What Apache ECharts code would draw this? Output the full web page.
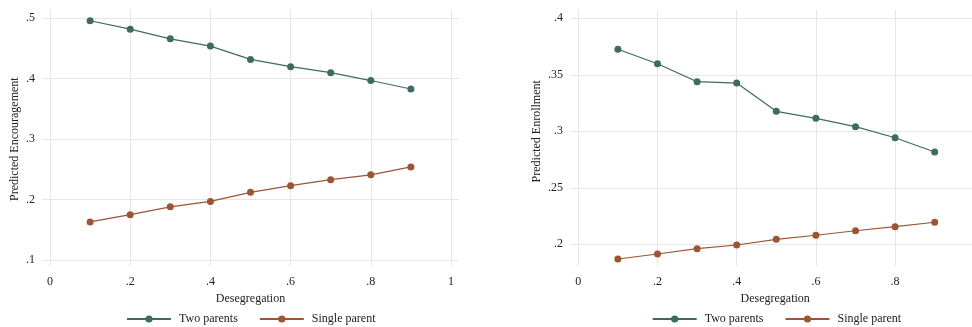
<!DOCTYPE html>
<html>
<head>
<meta charset="utf-8">
<script src="https://cdn.jsdelivr.net/npm/echarts@6/dist/echarts.min.js"></script>
<style>html,body{margin:0;padding:0;background:#fff}#c{width:972px;height:327px}</style>
</head>
<body>
<div id="c"></div>
<script>
// ---- data ----
const desegregation = [0.1, 0.2, 0.3, 0.4, 0.5, 0.6, 0.7, 0.8, 0.9];
const encourageTwoParents = [0.496, 0.482, 0.466, 0.454, 0.432, 0.420, 0.410, 0.397, 0.383];
const encourageSingleParent = [0.163, 0.175, 0.188, 0.197, 0.212, 0.223, 0.233, 0.241, 0.254];
const enrollTwoParents = [0.3726, 0.3598, 0.3439, 0.3427, 0.3177, 0.3115, 0.3041, 0.2943, 0.2817];
const enrollSingleParent = [0.187, 0.1914, 0.1961, 0.1994, 0.2044, 0.2080, 0.2120, 0.2156, 0.2195];
const seriesNames = ['Two parents', 'Single parent'];
const leftYTicks = { min: 0.1, max: 0.5, interval: 0.1 };
const rightYTicks = { min: 0.2, max: 0.4, interval: 0.05 };
const xTicks = { min: 0, max: 1, interval: 0.2 };

// ---- style ----
const FONT = '"Liberation Serif","DejaVu Serif",serif';
const GRIDC = '#e6e6e6';
const C_TWO = '#3d6b62';
const C_SINGLE = '#9b5532';
const fmt = v => { if (Math.abs(v) < 1e-9) return '0'; const s = String(+v.toFixed(3)); return s.replace(/^0\./, '.'); };

function pair(arrX, arrY) { return arrX.map((x, i) => [x, arrY[i]]); }

const chart = echarts.init(document.getElementById('c'), null, { renderer: 'canvas' });

const labelStyle = { color: '#222', fontFamily: FONT, fontSize: 12 };
// right panel is cut at the canvas edge: x = 0 at 578.3px, 396px per unit
const R_X0 = 578.3, R_PX = 396, CANVAS_W = 972;

chart.setOption({
  animation: false,
  backgroundColor: '#fff',
  grid: [
    { left: 50, width: 401, top: 10, height: 256 },
    { left: 42, width: 417, top: 18.3, height: 241.7 },
    { left: R_X0, width: CANVAS_W - R_X0, top: 10, height: 256 },
    { left: 571, width: CANVAS_W - 571, top: 18.3, height: 226 }
  ],
  xAxis: [
    { gridIndex: 0, type: 'value', min: xTicks.min, max: xTicks.max, interval: xTicks.interval,
      axisLine: { show: false }, axisTick: { show: false },
      axisLabel: Object.assign({ margin: 10, formatter: fmt }, labelStyle),
      splitLine: { show: true, lineStyle: { color: GRIDC, width: 1 } },
      name: 'Desegregation', nameLocation: 'middle', nameGap: 21,
      nameTextStyle: { color: '#222', fontFamily: FONT, fontSize: 12 } },
    { gridIndex: 1, type: 'value', min: -8 / 401, max: 1 + 8 / 401, show: false },
    { gridIndex: 2, type: 'value', min: xTicks.min, max: (CANVAS_W - R_X0) / R_PX, interval: xTicks.interval,
      axisLine: { show: false }, axisTick: { show: false },
      axisLabel: Object.assign({ margin: 10, formatter: fmt, showMaxLabel: false }, labelStyle),
      splitLine: { show: true, showMaxLine: false, lineStyle: { color: GRIDC, width: 1 } },
      name: 'Desegregation', nameLocation: 'middle', nameGap: 21,
      nameTextStyle: { color: '#222', fontFamily: FONT, fontSize: 12 } },
    { gridIndex: 3, type: 'value', min: (571 - R_X0) / R_PX, max: (CANVAS_W - R_X0) / R_PX, show: false }
  ],
  yAxis: [
    { gridIndex: 0, type: 'value', min: 0, max: 1, show: false },
    { gridIndex: 1, type: 'value', min: leftYTicks.min, max: leftYTicks.max, interval: leftYTicks.interval,
      axisLine: { show: false }, axisTick: { show: false },
      axisLabel: Object.assign({ margin: 7, formatter: fmt }, labelStyle),
      splitLine: { show: true, lineStyle: { color: GRIDC, width: 1 } },
      name: 'Predicted Encouragement', nameLocation: 'middle', nameGap: 21, nameRotate: 90,
      nameTextStyle: { color: '#222', fontFamily: FONT, fontSize: 12 } },
    { gridIndex: 2, type: 'value', min: 0, max: 1, show: false },
    { gridIndex: 3, type: 'value', min: rightYTicks.min, max: rightYTicks.max, interval: rightYTicks.interval,
      axisLine: { show: false }, axisTick: { show: false },
      axisLabel: Object.assign({ margin: 8, formatter: fmt }, labelStyle),
      splitLine: { show: true, lineStyle: { color: GRIDC, width: 1 } },
      name: 'Predicted Enrollment', nameLocation: 'middle', nameGap: 28, nameRotate: 90,
      nameTextStyle: { color: '#222', fontFamily: FONT, fontSize: 12 } }
  ],
  legend: [
    { data: seriesNames, left: 126, top: 313, padding: 0, itemWidth: 44, itemHeight: 9, itemGap: 21,
      selectedMode: false, textStyle: { color: '#222', fontFamily: FONT, fontSize: 12, padding: [0, 0, 0, 3] } },
    { data: seriesNames, left: 651.7, top: 313, padding: 0, itemWidth: 44, itemHeight: 9, itemGap: 21,
      selectedMode: false, textStyle: { color: '#222', fontFamily: FONT, fontSize: 12, padding: [0, 0, 0, 3] } }
  ],
  series: [
    { name: seriesNames[0], type: 'line', xAxisIndex: 1, yAxisIndex: 1, data: pair(desegregation, encourageTwoParents),
      symbol: 'circle', symbolSize: 7, clip: false, color: C_TWO, lineStyle: { width: 1.2, color: C_TWO }, emphasis: { disabled: true } },
    { name: seriesNames[1], type: 'line', xAxisIndex: 1, yAxisIndex: 1, data: pair(desegregation, encourageSingleParent),
      symbol: 'circle', symbolSize: 7, clip: false, color: C_SINGLE, lineStyle: { width: 1.2, color: C_SINGLE }, emphasis: { disabled: true } },
    { name: seriesNames[0], type: 'line', xAxisIndex: 3, yAxisIndex: 3, data: pair(desegregation, enrollTwoParents),
      symbol: 'circle', symbolSize: 7, clip: false, color: C_TWO, lineStyle: { width: 1.2, color: C_TWO }, emphasis: { disabled: true } },
    { name: seriesNames[1], type: 'line', xAxisIndex: 3, yAxisIndex: 3, data: pair(desegregation, enrollSingleParent),
      symbol: 'circle', symbolSize: 7, clip: false, color: C_SINGLE, lineStyle: { width: 1.2, color: C_SINGLE }, emphasis: { disabled: true } }
  ]
});
</script>
</body>
</html>
